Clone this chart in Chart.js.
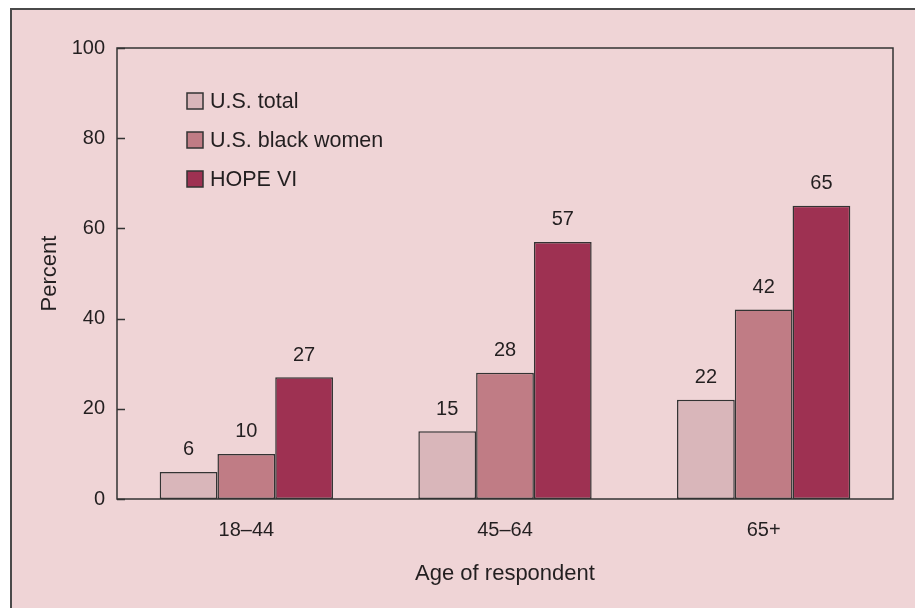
<!DOCTYPE html>
<html>
<head>
<meta charset="utf-8">
<script src="https://cdn.jsdelivr.net/npm/chart.js@4.4.1/dist/chart.umd.min.js"></script>
<style>
    body { margin: 0; background: #fff; }
    #frame {
        position: absolute; left: 10px; top: 8px; right: 0; bottom: 0;
        background: #efd4d6;
        border-left: 2px solid #4a4a4a;
        border-top: 2px solid #4a4a4a;
    }
    #chart { position: absolute; left: 0; top: 0; }
</style>
</head>
<body>
<div id="frame"></div>
<canvas id="chart" width="915" height="608"></canvas>
<script>
const age_groups = ['18\u201344', '45\u201364', '65+'];
const us_total = [6, 15, 22];
const us_black_women = [10, 28, 42];
const hope_vi = [27, 57, 65];
const y_ticks = [0, 20, 40, 60, 80, 100];

const text_color = '#231f20';
const line_color = '#333333';
const font_family = '"Liberation Sans", Arial, sans-serif';

// box around the plot, inward y ticks, value labels and the legend
const decorations = {
    id: 'decorations',
    afterDatasetsDraw(chart) {
        const ctx = chart.ctx;
        const area = chart.chartArea;
        const y = chart.scales.y;
        ctx.save();
        ctx.strokeStyle = line_color;
        ctx.lineWidth = 1.5;
        ctx.strokeRect(area.left, area.top, area.right - area.left, area.bottom - area.top);
        ctx.beginPath();
        y_ticks.forEach(function (t) {
            let py = Math.round(y.getPixelForValue(t)) + 0.5;
            ctx.moveTo(area.left, py);
            ctx.lineTo(area.left + 8, py);
        });
        ctx.stroke();

        ctx.font = '20px ' + font_family;
        ctx.fillStyle = text_color;
        ctx.textAlign = 'center';
        ctx.textBaseline = 'middle';
        chart.data.datasets.forEach(function (ds, i) {
            chart.getDatasetMeta(i).data.forEach(function (bar, j) {
                ctx.fillText(ds.data[j], bar.x, bar.y - 22);
            });
        });

        ctx.textAlign = 'left';
        ctx.font = '21.5px ' + font_family;
        chart.data.datasets.forEach(function (ds, i) {
            let bx = area.left + 70;
            let by = area.top + 45 + i * 39;
            ctx.fillStyle = ds.backgroundColor;
            ctx.fillRect(bx, by, 16, 16);
            ctx.lineWidth = 1.5;
            ctx.strokeStyle = line_color;
            ctx.strokeRect(bx, by, 16, 16);
            ctx.fillStyle = text_color;
            ctx.fillText(ds.label, bx + 23, by + 9);
        });
        ctx.restore();
    }
};

new Chart('chart', {
    type: 'bar',
    data: {
        labels: age_groups,
        datasets: [{
            label: 'U.S. total',
            data: us_total,
            backgroundColor: '#d9b6ba'
        },
        {
            label: 'U.S. black women',
            data: us_black_women,
            backgroundColor: '#c07c85'
        },
        {
            label: 'HOPE VI',
            data: hope_vi,
            backgroundColor: '#9e3152'
        }]
    },
    options: {
        responsive: false,
        animation: false,
        devicePixelRatio: 1,
        layout: { padding: { left: 33, top: 48, right: 22, bottom: 17 } },
        datasets: {
            bar: {
                borderColor: line_color,
                borderWidth: 1.5,
                borderSkipped: false,
                categoryPercentage: 0.67,
                barPercentage: 1
            }
        },
        scales: {
            x: {
                grid: { display: false, drawTicks: false },
                border: { display: false },
                ticks: {
                    color: text_color,
                    padding: 19,
                    font: { size: 20, family: font_family }
                },
                title: {
                    display: true,
                    text: 'Age of respondent',
                    color: text_color,
                    font: { size: 22, family: font_family }
                },
                afterFit: function (scale) { scale.height = 92; }
            },
            y: {
                min: 0,
                max: 100,
                afterBuildTicks: function (scale) {
                    scale.ticks = y_ticks.map(function (v) { return { value: v }; });
                },
                grid: { display: false, drawTicks: false },
                border: { display: false },
                ticks: {
                    color: text_color,
                    padding: 12,
                    font: { size: 20, family: font_family }
                },
                title: {
                    display: true,
                    text: 'Percent',
                    color: text_color,
                    font: { size: 22, family: font_family }
                },
                afterFit: function (scale) { scale.width = 84; }
            }
        },
        plugins: {
            legend: { display: false },
            tooltip: { enabled: false }
        }
    },
    plugins: [decorations]
});
</script>
</body>
</html>
